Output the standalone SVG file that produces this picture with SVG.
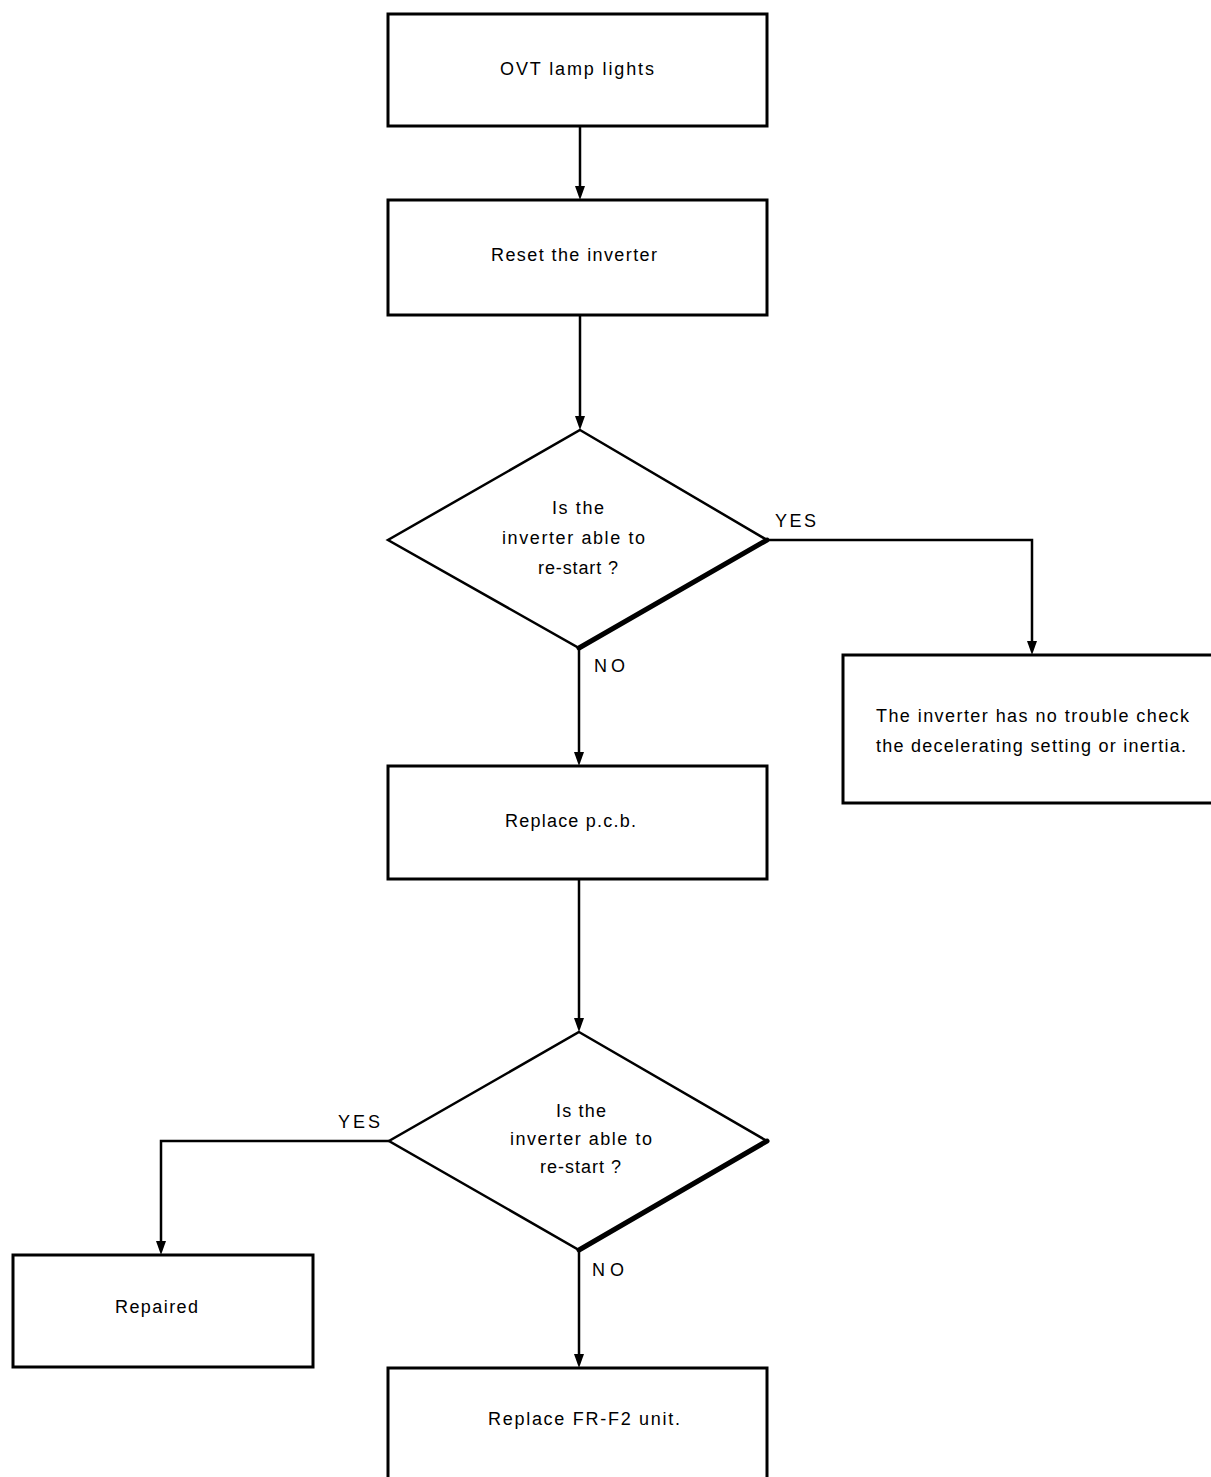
<svg xmlns="http://www.w3.org/2000/svg" width="1211" height="1477" viewBox="0 0 1211 1477">
<style>
.box{fill:#fff;stroke:#000;stroke-width:3}
.dia{fill:#fff;stroke:#000;stroke-width:2.5;stroke-linejoin:miter}
.thick{fill:none;stroke:#000;stroke-width:5;stroke-linecap:round}
.con{fill:none;stroke:#000;stroke-width:2.5}
text{font-family:"Liberation Sans",Arial,sans-serif;font-size:18px;fill:#000}
</style>
<rect width="1211" height="1477" fill="#fff"/>
<g id="connectors">
<path class="con" d="M580,126 V186"/>
<path d="M575,186 L585,186 L580,200 Z"/>
<path class="con" d="M580,315 V416"/>
<path d="M575,416 L585,416 L580,430 Z"/>
<path class="con" d="M767,540 H1032 V641"/>
<path d="M1027,641 L1037,641 L1032,655 Z"/>
<path class="con" d="M579,648 V752"/>
<path d="M574,752 L584,752 L579,766 Z"/>
<path class="con" d="M579,879 V1018"/>
<path d="M574,1018 L584,1018 L579,1032 Z"/>
<path class="con" d="M389,1141 H161 V1241"/>
<path d="M156,1241 L166,1241 L161,1255 Z"/>
<path class="con" d="M579,1250 V1354"/>
<path d="M574,1354 L584,1354 L579,1368 Z"/>
<text x="775" y="527" textLength="41">YES</text>
<text x="594" y="672" textLength="31">NO</text>
<text x="338" y="1128" textLength="42">YES</text>
<text x="592" y="1276" textLength="32">NO</text>
</g>
<g id="n1">
<rect class="box" x="388" y="14" width="379" height="112"/>
<text x="500" y="75" textLength="154">OVT lamp lights</text>
</g>
<g id="n2">
<rect class="box" x="388" y="200" width="379" height="115"/>
<text x="491" y="261" textLength="166">Reset the inverter</text>
</g>
<g id="d1">
<path class="dia" d="M580,430 L767,540 L579,648 L388,540 Z"/>
<path class="thick" d="M767,540 L579,648"/>
<text x="552" y="514" textLength="52">Is the</text>
<text x="502" y="544" textLength="143">inverter able to</text>
<text x="538" y="574" textLength="80">re-start ?</text>
</g>
<g id="n3">
<rect class="box" x="843" y="655" width="380" height="148"/>
<text x="876" y="722" textLength="313">The inverter has no trouble check</text>
<text x="876" y="752" textLength="310">the decelerating setting or inertia.</text>
</g>
<g id="n4">
<rect class="box" x="388" y="766" width="379" height="113"/>
<text x="505" y="827" textLength="131">Replace p.c.b.</text>
</g>
<g id="d2">
<path class="dia" d="M579,1032 L767,1141 L579,1250 L389,1141 Z"/>
<path class="thick" d="M767,1141 L579,1250"/>
<text x="556" y="1117" textLength="50">Is the</text>
<text x="510" y="1145" textLength="142">inverter able to</text>
<text x="540" y="1173" textLength="81">re-start ?</text>
</g>
<g id="n5">
<rect class="box" x="13" y="1255" width="300" height="112"/>
<text x="115" y="1313" textLength="83">Repaired</text>
</g>
<g id="n6">
<rect class="box" x="388" y="1368" width="379" height="120"/>
<text x="488" y="1425" textLength="192">Replace FR-F2 unit.</text>
</g>
</svg>
